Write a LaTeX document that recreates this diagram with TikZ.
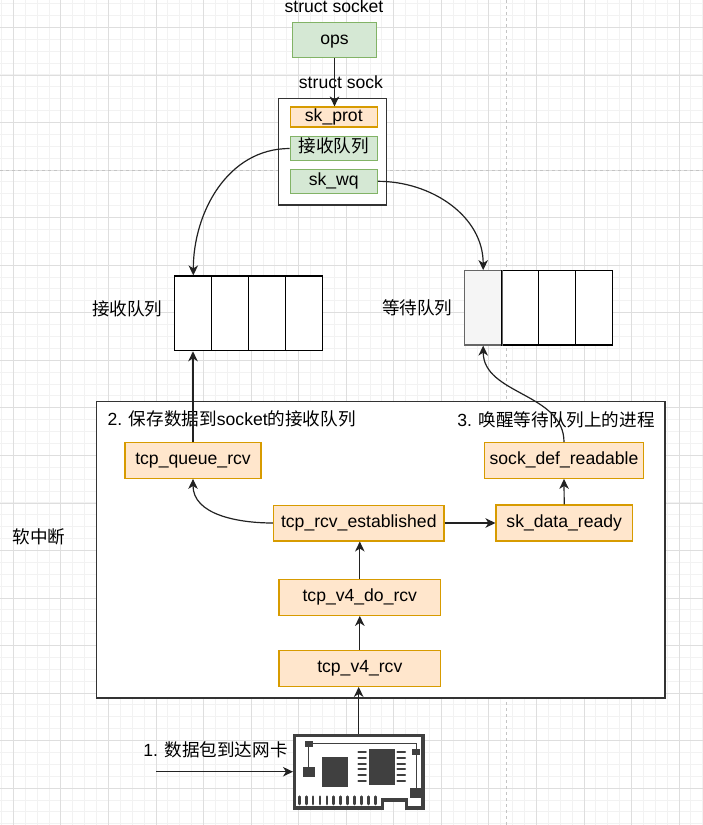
\documentclass[tikz,border=0pt]{standalone}
\usepackage{fontspec}
\setmainfont{Liberation Sans}
\newfontfamily\cjk{Noto Sans CJK SC}
\usetikzlibrary{arrows.meta}
\definecolor{gfill}{HTML}{D5E8D4}
\definecolor{gline}{HTML}{82B366}
\definecolor{ofill}{HTML}{FFE6CC}
\definecolor{oline}{HTML}{D79B00}
\definecolor{linec}{HTML}{222222}
\definecolor{boxc}{HTML}{333333}
\definecolor{minorc}{HTML}{F2F2F2}
\definecolor{majorc}{HTML}{DEDEDE}
\definecolor{dashc}{HTML}{C4C4C4}
\definecolor{nicc}{HTML}{404040}
\definecolor{cellgray}{HTML}{F5F5F5}
\definecolor{cellline}{HTML}{666666}
\tikzset{
  txt/.style={inner sep=0pt, font=\fontsize{17.6}{20}\selectfont, text=black},
  fbox/.style={draw, line width=1.2pt, inner sep=0pt, font=\fontsize{17.6}{20}\selectfont,
    text height=12.4pt, text depth=3.9pt},
  gbox/.style={fbox, fill=gfill, draw=gline},
  obox/.style={fbox, fill=ofill, draw=oline},
  cell/.style={draw=black, line width=1.2pt, fill=white, minimum width=36.85pt, minimum height=74.7pt, inner sep=0pt},
  wcell/.style={cell, minimum height=74.3pt},
  arr/.style={draw=linec, line width=1.2pt, -{Stealth[length=10pt,width=9.5pt,inset=3pt]}},
}
\begin{document}
\begin{tikzpicture}[x=1pt,y=-1pt]
\useasboundingbox (0,0) rectangle (703,825);
\fill[white] (0,0) rectangle (703,825);
% grid
\foreach \i in {0,...,59} \draw[minorc, line width=0.8pt] ({1.41+11.8875*\i},0) -- ++(0,825);
\foreach \i in {0,...,69} \draw[minorc, line width=0.8pt] (0,{3.525+11.8875*\i}) -- ++(703,0);
\foreach \i in {0,...,14} \draw[majorc, line width=0.8pt] ({13.3+47.55*\i},0) -- ++(0,825);
\foreach \i in {0,...,16} \draw[majorc, line width=0.8pt] (0,{27.4+47.55*\i}) -- ++(703,0);
\draw[dashc, line width=1pt, dash pattern=on 3pt off 3pt] (0,170) -- (703,170);
\draw[dashc, line width=1pt, dash pattern=on 3pt off 3pt] (506,0) -- (506,825);

% struct socket
\node[txt, anchor=base] (lsocket) at (334,12.9) {struct socket};
\node[gbox, minimum width=83.6pt, minimum height=35.4pt] (ops) at (334.5,40) {ops};
\node[txt] (lsock) at (341,82.7) {struct sock};
\node[draw=boxc, line width=1.6pt, fill=white, minimum width=108pt, minimum height=106.7pt, inner sep=0pt] (sock) at (332.3,151.7) {};
\node[obox, minimum width=87pt, minimum height=20pt] (skprot) at (333.8,117) {sk\_prot};
\node[gbox, minimum width=87pt, minimum height=24.4pt] (rq) at (333.8,148.5) {\cjk 接收队列};
\node[gbox, minimum width=87pt, minimum height=24pt] (skwq) at (333.8,181.3) {sk\_wq};

% receive queue
\node[cell] (q1) at (193.3,313.35) {};
\node[cell] (q2) at (230.1,313.35) {};
\node[cell] (q3) at (266.9,313.35) {};
\node[cell] (q4) at (303.8,313.35) {};
\node[txt] (lrq) at (127.2,309) {\cjk 接收队列};

% wait queue
\node[wcell, fill=cellgray, draw=cellline] (w1) at (483.2,307.85) {};
\node[wcell] (w2) at (520.1,307.85) {};
\node[wcell] (w3) at (557,307.85) {};
\node[wcell] (w4) at (593.9,307.85) {};
\draw[cellline, line width=1.2pt] (w1.north east) -- (w1.south east);
\node[txt] (lwq) at (417.2,308.3) {\cjk 等待队列};

% soft irq box
\node[draw=boxc, line width=1.2pt, fill=white, minimum width=568.3pt, minimum height=296.3pt, inner sep=0pt] (irq) at (380.85,549.85) {};
\node[txt, anchor=west] (l2) at (107.5,418.5) {2. {\cjk 保存数据到}socket{\cjk 的接收队列}};
\node[txt] (l3) at (556,419.8) {3. {\cjk 唤醒等待队列上的进程}};
\node[txt] (lirq) at (38.8,536.7) {\cjk 软中断};

\node[obox, minimum width=136pt, minimum height=35.6pt] (tqr) at (193,460.5) {tcp\_queue\_rcv};
\node[obox, minimum width=170.5pt, minimum height=35.8pt] (tre) at (358.8,523) {tcp\_rcv\_established};
\node[obox, minimum width=136.3pt, minimum height=36pt] (sdr) at (564.2,523) {sk\_data\_ready};
\node[obox, minimum width=158.6pt, minimum height=35.6pt] (sdf) at (564,460.5) {sock\_def\_readable};
\node[obox, minimum width=161.7pt, minimum height=36pt] (tdr) at (359.8,597.3) {tcp\_v4\_do\_rcv};
\node[obox, minimum width=161.7pt, minimum height=36pt] (tvr) at (359.8,668.3) {tcp\_v4\_rcv};

% NIC
\filldraw[draw=nicc, fill=white, line width=3.3pt, line join=miter]
  (294.7,735.3) -- (423,735.3) -- (423,808) -- (406.3,808) -- (406.3,800) -- (382.7,800) -- (382.7,808) -- (294.7,808) -- cycle;
\fill[nicc] (304.7,741.3) rectangle (313,746.7);
\draw[nicc, line width=1pt] (313,743.7) -- (416.3,743.7) -- (416.3,788);
\fill[nicc] (412.2,748.7) rectangle (420.2,754.7);
\fill[nicc] (409.7,788) rectangle (423,798);
\draw[nicc, line width=1pt] (308.7,746.7) -- (308.7,767.3);
\fill[nicc] (303,767.3) rectangle (314.7,777.3);
\fill[nicc] (322,757) rectangle (348,787);
\fill[nicc] (368.7,749) rectangle (394.7,784.7);
\foreach \y in {752.3,758,763.7,769.3,775,780.7} {
  \draw[nicc, line width=2.3pt, line cap=round] (358.5,\y) -- (365.8,\y);
  \draw[nicc, line width=2.3pt, line cap=round] (397.5,\y) -- (405,\y);
}
\foreach \i in {0,...,11} \draw[nicc, line width=2.7pt, line cap=round] ({299.3+6.9*\i},796.7) -- ++(0,7.3);
\coordinate (nictop) at (358.7,733.6);
\coordinate (nicwest) at (293,771.7);
\coordinate (pkt) at (156,771.7);
\node[txt] (l1) at (215.5,750) {1. {\cjk 数据包到达网卡}};

% connectors
\draw[arr] (ops.south) -- (ops.south |- skprot.north);
\draw[arr] (rq.west) to[out=180,in=90] (q1.north);
\draw[arr] (skwq.east) to[out=0,in=90] (w1.north);
\draw[arr] (tqr.north) -- (tqr.north |- q1.south);
\draw[arr] (tre.west) to[out=180,in=-90] (tqr.south);
\draw[arr] (tre.east) -- (sdr.west);
\draw[arr] (sdr.north) -- (sdf.south);
\draw[arr] (sdf.north) to[out=90,in=-90] (w1.south);
\draw[arr] (tdr.north) -- (tdr.north |- tre.south);
\draw[arr] (tvr.north) -- (tdr.south);
\draw[arr] (nictop) -- (nictop |- tvr.south);
\draw[arr] (pkt) -- (nicwest);
\end{tikzpicture}
\end{document}
